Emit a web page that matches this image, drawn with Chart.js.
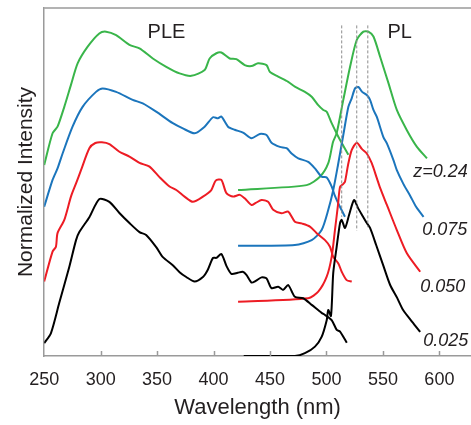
<!DOCTYPE html>
<html>
<head>
<meta charset="utf-8">
<script src="https://cdn.jsdelivr.net/npm/chart.js@4.4.1/dist/chart.umd.min.js"></script>
<style>
  html,body{margin:0;padding:0;background:#fff;}
  #wrap{width:471px;height:425px;position:relative;}
</style>
</head>
<body>
<div id="wrap"><canvas id="plChart"></canvas></div>
<script>
// wavelength (nm) vs normalized intensity (offset, arb. units 0-100)
const wavelengthTicks = [250, 300, 350, 400, 450, 500, 550, 600];
const sampleLabels = ['z=0.24', '0.075', '0.050', '0.025'];

const ple_z025 = [[250,3.7],[256,6.6],[263.3,15.2],[272.2,25.6],[278.2,33.3],[281.1,35.6],[290,39.9],[298.9,45.1],[307.7,44.3],[316.6,41.1],[325.5,38.2],[334.4,35.6],[340.3,34.8],[349.2,31.3],[355.1,28.4],[363.9,26.1],[369.9,24.1],[375.8,22.7],[383.2,21.4],[390.6,22.7],[394.8,24.7],[399.5,28.2],[402.5,28.2],[406.9,29.3],[411.4,25.9],[415.8,23.6],[421.4,23.9],[425.8,24.2],[429.1,23.3],[433.6,21.1],[437.4,21.6],[442.5,22.6],[446.9,22.3],[451.3,19.5],[457.2,19.9],[461.6,19.0],[466.1,20.4],[472,17.0],[479.4,16.6],[486.9,14.7],[495.7,12.4],[498.7,11.8],[504.6,10.3],[509.1,7.5],[512,7.0],[518,3.8]];
const pl_z025 = [[426.7,0],[472,0],[480.9,0.8],[489.8,2.7],[495.7,5.5],[500.2,10.3],[501.6,13.2],[504,11.5],[506,23.9],[509,31.3],[512,38.2],[513.5,39.1],[516.4,36.8],[520,40.5],[524.4,44.8],[528,42.5],[531.5,40.5],[535.1,38.5],[538.6,36.8],[544,31.9],[550.2,26.1],[556.4,20.4],[562.6,16.7],[567.9,13.2],[575.9,9.8],[583,6.9]];

const ple_z050 = [[250,21.4],[257.4,30.0],[260.4,31.4],[261.8,35.3],[267.8,39.1],[273.7,45.8],[278.2,49.6],[282.6,53.4],[290,59.7],[295.3,61.2],[301.1,61.4],[307.7,60.9],[316.6,58.7],[325.5,57.3],[334.4,55.5],[343.3,54.4],[352.1,51.4],[361,48.7],[367,47.7],[374.3,45.8],[381.7,44.3],[390.6,45.8],[398,47.7],[401.9,50.4],[406.9,50.6],[411.4,46.8],[417.2,45.8],[423.2,46.3],[427.6,45.3],[433.6,43.4],[437.4,44.0],[442.5,44.8],[448.3,44.3],[452.8,42.0],[460.2,41.0],[466.1,41.5],[472,38.6],[478,38.1],[485.3,37.2],[491.3,35.3],[498.7,33.3],[503.1,31.4],[506,28.5],[510.5,26.6],[513.5,24.2],[517.9,21.8],[522.4,21.4]];
const pl_z050 = [[421.7,15.6],[483.8,16.6],[492.7,18.5],[500.2,22.8],[504.6,28.5],[507.5,36.2],[510.2,43.4],[512,48.6],[514.7,49.4],[516.4,50.1],[519.1,54.9],[522.4,59.2],[526.8,61.3],[531.3,59.5],[535.7,58.2],[540.1,55.4],[544.6,51.1],[547.5,48.3],[553.5,43.4],[562.3,36.2],[571.2,29.5],[583,24.2]];

const ple_z075 = [[250,42.9],[257.4,50.6],[261.8,53.9],[266.3,58.2],[275.1,65.9],[284,71.6],[295.9,75.9],[301.8,76.9],[313.7,75.9],[328.4,73.6],[337.3,72.6],[349.2,70.2],[363.9,66.9],[372.8,65.4],[383.2,64.0],[392.1,65.9],[399.5,68.6],[403.9,68.3],[406.9,68.8],[412.8,65.9],[418.7,65.0],[426.1,64.2],[433.6,62.6],[441,63.8],[446.9,63.5],[451.3,61.3],[458.7,60.1],[464.7,59.7],[469.1,58.2],[475,56.8],[483.8,55.8],[489.8,53.9],[495.7,51.5],[500.2,51.3],[504.6,48.7],[507.5,46.0],[512,42.8],[516.4,40.0]];
const pl_z075 = [[421.7,31.7],[472,31.9],[486.9,33.3],[495.7,36.2],[501.6,42.0],[506,47.7],[510.2,54.9],[514.9,63.5],[519.4,71.6],[522.4,74.1],[525.3,76.9],[528.3,77.3],[531.6,75.9],[535.7,75.0],[538.6,73.6],[541.6,70.7],[544.6,68.7],[550.4,62.9],[553.5,61.1],[559.3,56.3],[562.3,53.4],[568.2,49.4],[574.2,46.0],[579.5,42.8],[586,40.0]];

const ple_z024 = [[250,54.9],[257.4,64.0],[261.8,65.9],[267.8,71.6],[273.7,77.9],[279.6,84.1],[288.5,88.9],[298.8,92.7],[304.8,93.2],[313.7,92.2],[325.5,89.4],[334.4,88.4],[346.2,85.5],[358.1,83.1],[369.9,81.2],[380.3,80.5],[392.1,82.2],[396.5,85.5],[402.5,87.0],[406.9,87.2],[414.3,85.5],[420.2,85.3],[427.6,83.6],[433.6,83.3],[439.4,84.1],[446.9,83.6],[449.8,81.7],[457.2,80.3],[466.1,78.8],[472,77.4],[480.9,75.9],[486.9,74.5],[492.7,72.1],[497.2,70.7],[500.2,70.2],[504.6,66.9],[510.5,63.0],[519.4,57.8]];
const pl_z024 = [[421.7,47.7],[482.4,49.1],[494.2,51.5],[501.6,55.4],[505.8,61.5],[509,64.0],[514.9,73.6],[520.9,83.1],[526.8,90.8],[532.7,93.2],[537.1,93.2],[541.6,91.8],[547.5,86.0],[554.9,78.4],[562.3,70.7],[571.2,64.9],[580.1,60.1],[589,56.8]];

// dashed guide lines at the PL peak positions
const peakLines = [513.5, 526.8, 536.6];
const peakLineTop = [95, 95, 95];
const peakLineBottom = [40, 36, 37];

const FONT = '"Liberation Sans", Arial, sans-serif';
const TEXT = '#231f20';
const AXIS = '#9a9a9a';

const toXY = arr => arr.map(p => ({x: p[0], y: p[1]}));

function curve(data, color) {
  return {
    data: toXY(data),
    borderColor: color,
    borderWidth: 2,
    pointRadius: 0,
    tension: 0.25,
    fill: false
  };
}

const datasets = [];
peakLines.forEach((w, i) => {
  datasets.push({
    data: [{x: w, y: peakLineTop[i]}, {x: w, y: peakLineBottom[i]}],
    borderColor: '#8c8c8c',
    borderWidth: 1,
    borderDash: [3, 2],
    pointRadius: 0
  });
});
datasets.push(curve(ple_z025, '#000000'), curve(pl_z025, '#000000'));
datasets.push(curve(ple_z050, '#ed1c24'), curve(pl_z050, '#ed1c24'));
datasets.push(curve(ple_z075, '#1b75bc'), curve(pl_z075, '#1b75bc'));
datasets.push(curve(ple_z024, '#39b54a'), curve(pl_z024, '#39b54a'));

const annotate = {
  id: 'annotate',
  afterDatasetsDraw(chart) {
    const {ctx, chartArea, scales: {x, y}} = chart;
    ctx.save();
    // top frame line
    ctx.strokeStyle = AXIS;
    ctx.lineWidth = 1.5;
    ctx.beginPath();
    ctx.moveTo(chartArea.left, chartArea.top);
    ctx.lineTo(chartArea.right, chartArea.top);
    ctx.stroke();
    // inward tick marks
    wavelengthTicks.slice(1).forEach(v => {
      const px = Math.round(x.getPixelForValue(v)) + 0.5;
      ctx.beginPath();
      ctx.moveTo(px, chartArea.bottom);
      ctx.lineTo(px, chartArea.bottom - 5);
      ctx.stroke();
    });
    // PLE / PL headings
    ctx.fillStyle = TEXT;
    ctx.font = '20px ' + FONT;
    ctx.textAlign = 'center';
    ctx.textBaseline = 'middle';
    ctx.fillText('PLE', x.getPixelForValue(358.3), y.getPixelForValue(93.1));
    ctx.fillText('PL', x.getPixelForValue(564.8), y.getPixelForValue(93.1));
    // sample labels
    ctx.font = 'italic 18px ' + FONT;
    ctx.textAlign = 'left';
    const anchors = [[576.8, 52.9], [584.8, 36.2], [583, 19.8], [585.7, 4.2]];
    sampleLabels.forEach((t, i) => {
      ctx.fillText(t, x.getPixelForValue(anchors[i][0]), y.getPixelForValue(anchors[i][1]));
    });
    ctx.restore();
  }
};

new Chart(document.getElementById('plChart'), {
  type: 'line',
  data: {datasets: datasets},
  options: {
    responsive: true,
    maintainAspectRatio: false,
    animation: false,
    devicePixelRatio: 1,
    layout: {padding: {top: 8, left: 0, right: 0, bottom: 0}},
    plugins: {legend: {display: false}, tooltip: {enabled: false}},
    scales: {
      x: {
        type: 'linear',
        min: 250,
        max: 628,
        afterBuildTicks: s => { s.ticks = wavelengthTicks.map(v => ({value: v})); },
        ticks: {font: {family: FONT, size: 18}, color: TEXT, padding: 13, maxRotation: 0},
        grid: {drawOnChartArea: false, drawTicks: false},
        border: {display: true, color: AXIS, width: 1.5},
        title: {display: true, text: 'Wavelength (nm)', font: {family: FONT, size: 22}, color: TEXT, padding: {top: -9, bottom: 4}}
      },
      y: {
        type: 'linear',
        min: 0,
        max: 100,
        ticks: {display: false},
        grid: {drawOnChartArea: false, drawTicks: false},
        border: {display: true, color: AXIS, width: 1.5},
        title: {display: true, text: 'Normalized Intensity', font: {family: FONT, size: 21}, color: TEXT, padding: {top: 14, bottom: 5}}
      }
    }
  },
  plugins: [annotate]
});
</script>
</body>
</html>
